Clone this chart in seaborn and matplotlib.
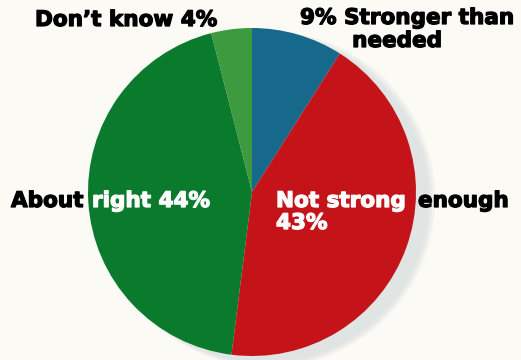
import matplotlib
matplotlib.use("Agg")
import matplotlib.pyplot as plt
import matplotlib.patheffects as pe
import seaborn as sns
from matplotlib.patches import Circle

# data
answers = ["Stronger than needed", "Not strong enough", "About right", "Don't know"]
shares = [9, 43, 44, 4]
colors = ["#17698c", "#c4141a", "#0a7a2c", "#3d9a3e"]

sns.set_theme()
sns.set_style("white")
plt.rcParams['font.family'] = ['DejaVu Sans']

bg = "#fbfaf5"
fig = plt.figure(figsize=(5.21, 3.6), dpi=100, facecolor=bg)
ax = fig.add_axes([0, 0, 1, 1])
ax.set_facecolor(bg)

cx, cy, r = 252, 168, 164

# soft shadow behind the pie
for i, a in enumerate([0.35, 0.5, 0.8]):
    ax.add_patch(Circle((cx + 15 - i, cy - 7), r + 4 - 2 * i, color="#dfe3e2", alpha=a, lw=0, zorder=0))

ax.pie(shares, colors=colors, startangle=90, counterclock=False,
       center=(cx, cy), radius=r, frame=True,
       wedgeprops=dict(linewidth=0), normalize=True)
ax.set_xlim(0, 521)
ax.set_ylim(0, 360)
ax.set_aspect("equal")
ax.axis("off")

fs = 15.5


def label(x, y, s, color, ha="left"):
    ax.text(x, y, s, color=color, ha=ha, fontsize=fs, fontweight="heavy",
            va="baseline", zorder=5,
            path_effects=[pe.withStroke(linewidth=0.9, foreground=color)])


label(35, 334, "Don\u2019t know 4%", "black")
label(300, 336, "9% Stronger than", "black")
label(397, 313, "needed", "black", ha="center")

# About right 44%
label(11, 153, "About", "black")
label(92, 153, "right 44%", "white")

# Not strong enough 43%
label(276, 153, "Not strong", "white")
label(418, 153, "enough", "black")
label(276, 131, "43%", "white")

fig.savefig("out.png", dpi=100, facecolor=bg)
